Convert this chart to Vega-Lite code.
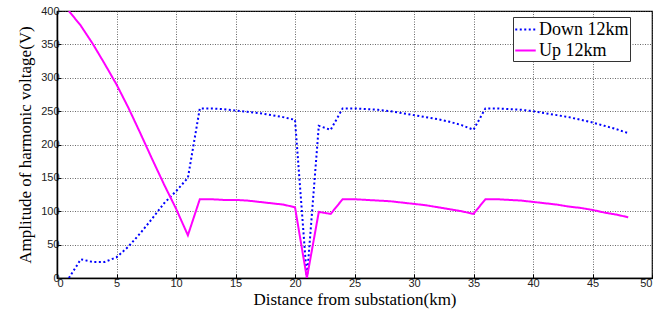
{
  "$schema": "https://vega.github.io/schema/vega-lite/v6.json",
  "width": 595,
  "height": 267,
  "autosize": "none",
  "padding": {"left": 57, "top": 11, "right": 2, "bottom": 43},
  "background": "white",
  "config": {
    "view": {"stroke": "black", "strokeWidth": 1.2},
    "axis": {
      "labelFont": "Liberation Sans",
      "labelFontSize": 11,
      "labelColor": "#222",
      "titleFont": "Times New Roman, Liberation Serif, DejaVu Serif, serif",
      "titleFontSize": 17,
      "titleFontWeight": "normal",
      "titleColor": "black",
      "domainColor": "black",
      "domainWidth": 1.5,
      "tickColor": "black",
      "tickSize": -4,
      "gridColor": "#444",
      "gridDash": [1, 1.5],
      "gridOpacity": 0.8,
      "gridWidth": 1
    }
  },
  "datasets": {
    "lines": [
      {"km": 1, "V": 0, "series": "Down 12km"},
      {"km": 2, "V": 28, "series": "Down 12km"},
      {"km": 3, "V": 24, "series": "Down 12km"},
      {"km": 4, "V": 24, "series": "Down 12km"},
      {"km": 5, "V": 31, "series": "Down 12km"},
      {"km": 6, "V": 47, "series": "Down 12km"},
      {"km": 7, "V": 67, "series": "Down 12km"},
      {"km": 8, "V": 89, "series": "Down 12km"},
      {"km": 9, "V": 112, "series": "Down 12km"},
      {"km": 10, "V": 130, "series": "Down 12km"},
      {"km": 11, "V": 150, "series": "Down 12km"},
      {"km": 12, "V": 254, "series": "Down 12km"},
      {"km": 13, "V": 254, "series": "Down 12km"},
      {"km": 14, "V": 253, "series": "Down 12km"},
      {"km": 15, "V": 251, "series": "Down 12km"},
      {"km": 16, "V": 249, "series": "Down 12km"},
      {"km": 17, "V": 247, "series": "Down 12km"},
      {"km": 18, "V": 244, "series": "Down 12km"},
      {"km": 19, "V": 241, "series": "Down 12km"},
      {"km": 20, "V": 237, "series": "Down 12km"},
      {"km": 21, "V": 0, "series": "Down 12km"},
      {"km": 22, "V": 228, "series": "Down 12km"},
      {"km": 23, "V": 222, "series": "Down 12km"},
      {"km": 24, "V": 254, "series": "Down 12km"},
      {"km": 25, "V": 254, "series": "Down 12km"},
      {"km": 26, "V": 253, "series": "Down 12km"},
      {"km": 27, "V": 252, "series": "Down 12km"},
      {"km": 28, "V": 250, "series": "Down 12km"},
      {"km": 29, "V": 247, "series": "Down 12km"},
      {"km": 30, "V": 244, "series": "Down 12km"},
      {"km": 31, "V": 241, "series": "Down 12km"},
      {"km": 32, "V": 238, "series": "Down 12km"},
      {"km": 33, "V": 234, "series": "Down 12km"},
      {"km": 34, "V": 229, "series": "Down 12km"},
      {"km": 35, "V": 222, "series": "Down 12km"},
      {"km": 36, "V": 254, "series": "Down 12km"},
      {"km": 37, "V": 254, "series": "Down 12km"},
      {"km": 38, "V": 253, "series": "Down 12km"},
      {"km": 39, "V": 252, "series": "Down 12km"},
      {"km": 40, "V": 250, "series": "Down 12km"},
      {"km": 41, "V": 247, "series": "Down 12km"},
      {"km": 42, "V": 244, "series": "Down 12km"},
      {"km": 43, "V": 241, "series": "Down 12km"},
      {"km": 44, "V": 237, "series": "Down 12km"},
      {"km": 45, "V": 233, "series": "Down 12km"},
      {"km": 46, "V": 228, "series": "Down 12km"},
      {"km": 47, "V": 223, "series": "Down 12km"},
      {"km": 48, "V": 217, "series": "Down 12km"},
      {"km": 1, "V": 400, "series": "Up 12km"},
      {"km": 2, "V": 378, "series": "Up 12km"},
      {"km": 3, "V": 351, "series": "Up 12km"},
      {"km": 4, "V": 321, "series": "Up 12km"},
      {"km": 5, "V": 290, "series": "Up 12km"},
      {"km": 6, "V": 255, "series": "Up 12km"},
      {"km": 7, "V": 217, "series": "Up 12km"},
      {"km": 8, "V": 178, "series": "Up 12km"},
      {"km": 9, "V": 140, "series": "Up 12km"},
      {"km": 10, "V": 104, "series": "Up 12km"},
      {"km": 11, "V": 64, "series": "Up 12km"},
      {"km": 12, "V": 118, "series": "Up 12km"},
      {"km": 13, "V": 118, "series": "Up 12km"},
      {"km": 14, "V": 117, "series": "Up 12km"},
      {"km": 15, "V": 117, "series": "Up 12km"},
      {"km": 16, "V": 116, "series": "Up 12km"},
      {"km": 17, "V": 114, "series": "Up 12km"},
      {"km": 18, "V": 112, "series": "Up 12km"},
      {"km": 19, "V": 110, "series": "Up 12km"},
      {"km": 20, "V": 106, "series": "Up 12km"},
      {"km": 21, "V": 0, "series": "Up 12km"},
      {"km": 22, "V": 99, "series": "Up 12km"},
      {"km": 23, "V": 96, "series": "Up 12km"},
      {"km": 24, "V": 118, "series": "Up 12km"},
      {"km": 25, "V": 118, "series": "Up 12km"},
      {"km": 26, "V": 117, "series": "Up 12km"},
      {"km": 27, "V": 116, "series": "Up 12km"},
      {"km": 28, "V": 115, "series": "Up 12km"},
      {"km": 29, "V": 113, "series": "Up 12km"},
      {"km": 30, "V": 111, "series": "Up 12km"},
      {"km": 31, "V": 109, "series": "Up 12km"},
      {"km": 32, "V": 106, "series": "Up 12km"},
      {"km": 33, "V": 103, "series": "Up 12km"},
      {"km": 34, "V": 100, "series": "Up 12km"},
      {"km": 35, "V": 96, "series": "Up 12km"},
      {"km": 36, "V": 118, "series": "Up 12km"},
      {"km": 37, "V": 118, "series": "Up 12km"},
      {"km": 38, "V": 117, "series": "Up 12km"},
      {"km": 39, "V": 116, "series": "Up 12km"},
      {"km": 40, "V": 114, "series": "Up 12km"},
      {"km": 41, "V": 112, "series": "Up 12km"},
      {"km": 42, "V": 110, "series": "Up 12km"},
      {"km": 43, "V": 107, "series": "Up 12km"},
      {"km": 44, "V": 105, "series": "Up 12km"},
      {"km": 45, "V": 102, "series": "Up 12km"},
      {"km": 46, "V": 98, "series": "Up 12km"},
      {"km": 47, "V": 95, "series": "Up 12km"},
      {"km": 48, "V": 91, "series": "Up 12km"}
    ]
  },
  "data": {"name": "lines"},
  "layer": [
    {
      "mark": {"type": "line", "strokeWidth": 2, "clip": true},
      "encoding": {
        "x": {
          "field": "km", "type": "quantitative",
          "scale": {"domain": [0, 50], "nice": false, "zero": false},
          "axis": {"values": [0, 5, 10, 15, 20, 25, 30, 35, 40, 45, 50], "title": "Distance from substation(km)", "titlePadding": 3, "labelPadding": 3}
        },
        "y": {
          "field": "V", "type": "quantitative",
          "scale": {"domain": [0, 400], "nice": false},
          "axis": {"values": [0, 50, 100, 150, 200, 250, 300, 350, 400], "title": "Amplitude of harmonic voltage(V)", "titlePadding": 6, "labelPadding": 2}
        },
        "color": {
          "field": "series", "type": "nominal",
          "scale": {"domain": ["Down 12km", "Up 12km"], "range": ["#0000FF", "#FF00FF"]},
          "legend": {
            "title": null,
            "orient": "none",
            "legendX": 456,
            "legendY": 6,
            "direction": "vertical",
            "fillColor": "white",
            "strokeColor": "#333",
            "padding": 1,
            "symbolType": "stroke",
            "symbolSize": 420,
            "symbolStrokeWidth": 2,
            "labelFont": "Times New Roman, Liberation Serif, DejaVu Serif, serif",
            "labelFontSize": 18,
            "labelColor": "black",
            "labelOffset": 2,
            "rowPadding": 0
          }
        },
        "strokeDash": {
          "field": "series", "type": "nominal",
          "scale": {"domain": ["Down 12km", "Up 12km"], "range": [[2, 2.5], [1, 0]]},
          "legend": null
        }
      }
    }
  ]
}
